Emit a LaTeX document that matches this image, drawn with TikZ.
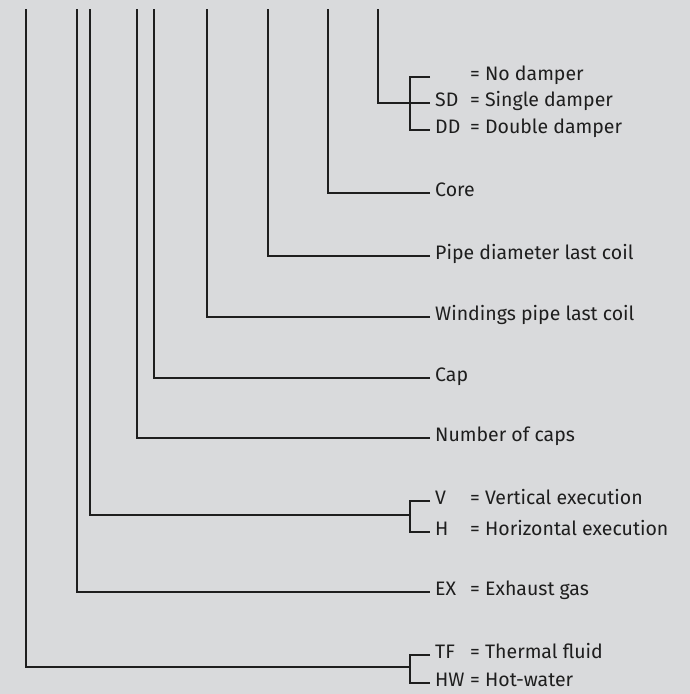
\documentclass[tikz,border=0pt]{standalone}
\usepackage{fontspec}
\setmainfont{Fira Sans}
\usetikzlibrary{positioning, calc}
\definecolor{bgcol}{HTML}{D9DADC}
\definecolor{inkcol}{HTML}{1E1E1E}

\begin{document}
\begin{tikzpicture}[x=1pt, y=-1pt,
	line/.style={draw=inkcol, line width=1.1pt},
	label/.style={anchor=west, inner xsep=5pt, inner ysep=0pt, text=inkcol, font=\fontsize{19.5}{22}\selectfont, text height=0.66em, text depth=0pt},
	desc/.style={anchor=west, inner sep=0pt, text=inkcol, font=\fontsize{19.5}{22}\selectfont, text height=0.66em, text depth=0pt}
	]
	\fill[bgcol] (0,0) rectangle (690,694);
	\useasboundingbox (0,0) rectangle (690,694);
	% top ends of the code lines
	\coordinate (t1) at (26,9);
	\coordinate (t2) at (77,9);
	\coordinate (t3) at (90,9);
	\coordinate (t4) at (137,9);
	\coordinate (t5) at (154,9);
	\coordinate (t6) at (207,9);
	\coordinate (t7) at (268,9);
	\coordinate (t8) at (328,9);
	\coordinate (t9) at (378,9);
	% bracket joints
	\coordinate (b1) at (410,667);
	\coordinate (b3) at (410,515);
	\coordinate (b9) at (410,103);
	% damper
	\node[label] (nd) at (430,77) {};
	\node[label] (sd) at (430,103) {SD};
	\node[label] (dd) at (430,130) {DD};
	\node[desc] at (470,77) {= No damper};
	\node[desc] at (470,103) {= Single damper};
	\node[desc] at (470,130) {= Double damper};
	% single labels
	\node[label] (core) at (430,193) {Core};
	\node[label] (pipe) at (430,256) {Pipe diameter last coil};
	\node[label] (wind) at (430,317) {Windings pipe last coil};
	\node[label] (cap) at (430,378) {Cap};
	\node[label] (ncap) at (430,438) {Number of caps};
	% execution
	\node[label] (v) at (430,501) {V};
	\node[label] (h) at (430,532) {H};
	\node[desc] at (470,501) {= Vertical execution};
	\node[desc] at (470,532) {= Horizontal execution};
	% exhaust gas
	\node[label] (ex) at (430,592) {EX};
	\node[desc] at (470,592) {= Exhaust gas};
	% medium
	\node[label] (tf) at (430,655) {TF};
	\node[label] (hw) at (430,683) {HW};
	\node[desc] at (470,655) {= Thermal fluid};
	\node[desc] at (470,683) {= Hot-water};

	\draw[line] (t9) |- (sd.west);
	\draw[line] (nd.west) -| (b9) |- (dd.west);
	\draw[line] (t8) |- (core.west);
	\draw[line] (t7) |- (pipe.west);
	\draw[line] (t6) |- (wind.west);
	\draw[line] (t5) |- (cap.west);
	\draw[line] (t4) |- (ncap.west);
	\draw[line] (t3) |- (b3);
	\draw[line] (v.west) -| (b3) |- (h.west);
	\draw[line] (t2) |- (ex.west);
	\draw[line] (t1) |- (b1);
	\draw[line] (tf.west) -| (b1) |- (hw.west);
\end{tikzpicture}
\end{document}
